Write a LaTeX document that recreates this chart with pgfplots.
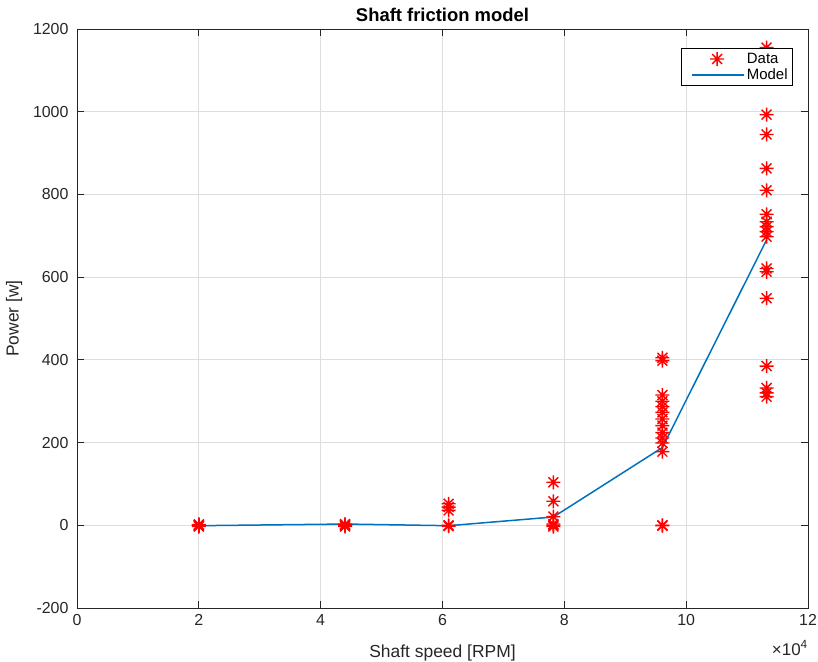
\documentclass[border=0pt]{standalone}
\usepackage{pgfplots}
\pgfplotsset{compat=1.18}
\usepackage{fontspec}
\setmainfont{Liberation Sans}

\definecolor{mblue}{rgb}{0,0.447,0.741}
\definecolor{gridgray}{RGB}{222,222,222}
\definecolor{axgray}{RGB}{38,38,38}

% eight-armed asterisk marker
\pgfdeclareplotmark{mstar}{%
  \pgfpathmoveto{\pgfqpoint{-\pgfplotmarksize}{0pt}}%
  \pgfpathlineto{\pgfqpoint{\pgfplotmarksize}{0pt}}%
  \pgfpathmoveto{\pgfqpoint{0pt}{-\pgfplotmarksize}}%
  \pgfpathlineto{\pgfqpoint{0pt}{\pgfplotmarksize}}%
  \pgfpathmoveto{\pgfqpoint{-0.7071\pgfplotmarksize}{-0.7071\pgfplotmarksize}}%
  \pgfpathlineto{\pgfqpoint{0.7071\pgfplotmarksize}{0.7071\pgfplotmarksize}}%
  \pgfpathmoveto{\pgfqpoint{-0.7071\pgfplotmarksize}{0.7071\pgfplotmarksize}}%
  \pgfpathlineto{\pgfqpoint{0.7071\pgfplotmarksize}{-0.7071\pgfplotmarksize}}%
  \pgfusepathqstroke}

% legend samples
\pgfplotsset{
  datalegend/.style={legend image code/.code={\path (-7bp,0bp);
    \draw[mark repeat=2,mark phase=2,##1]
    plot coordinates {(0bp,0bp) (25bp,0bp) (52bp,0bp)};}},
  linelegend/.style={legend image code/.code={\path (-7bp,0bp);
    \draw[##1] (0bp,0bp) -- (52bp,0bp);}},
}

\begin{document}
\begin{tikzpicture}
\useasboundingbox (-77bp,-54bp) rectangle (741bp,608bp);
\begin{axis}[
  name=ax,
  at={(0,0)}, anchor=south west,
  scale only axis,
  width=731bp, height=579bp,
  xmin=0, xmax=120000, ymin=-200, ymax=1200,
  xtick={0,20000,40000,60000,80000,100000,120000},
  xticklabels={0,2,4,6,8,10,12},
  ytick={-200,0,200,400,600,800,1000,1200},
  scaled x ticks=false,
  /pgf/number format/assume math mode=true,
  /pgf/number format/.cd, 1000 sep={}, /pgfplots/.cd,
  grid=major,
  major grid style={gridgray, line width=0.9bp},
  axis line style={axgray, line width=0.8bp},
  tick style={axgray, line width=0.8bp},
  major tick length=7bp,
  tick align=inside,
  ticklabel style={font=\fontsize{16}{19}\selectfont, text=axgray},
  xticklabel style={yshift=-3bp},
  yticklabel style={xshift=-5bp},
  title={\bfseries Shaft friction model},
  title style={font=\fontsize{18.5}{22}\selectfont, yshift=-2bp},
  xlabel={Shaft speed [RPM]},
  ylabel={Power [w]},
  label style={font=\fontsize{17.5}{21}\selectfont, text=axgray},
  xlabel style={yshift=-12bp},
  ylabel style={yshift=4bp},
  legend style={at={(rel axis cs:0.9795,0.967)}, anchor=north east,
    draw=black, line width=0.8bp, font=\fontsize{15}{17}\selectfont,
    inner xsep=3bp, inner ysep=3.5bp, row sep=2bp, column sep=0bp,
    nodes={inner xsep=2bp, inner ysep=1bp}},
  legend cell align=left,
  legend plot pos=left,
]
\addplot[only marks, red, mark=mstar, mark size=7bp, line width=1.4bp, datalegend] coordinates {
  (20000,-3) (20000,-1) (20000,0) (20000,1) (20000,2)
  (44000,-3) (44000,-1) (44000,0) (44000,1) (44000,3)
  (61000,52) (61000,44) (61000,36) (61000,0) (61000,-2)
  (78200,104) (78200,58) (78200,21) (78200,3) (78200,0) (78200,-3)
  (96100,405) (96100,398) (96100,315) (96100,300) (96100,287) (96100,273)
  (96100,257) (96100,241) (96100,224) (96100,211) (96100,199) (96100,178)
  (96100,0) (96100,-1)
  (113200,1155) (113200,993) (113200,945) (113200,863) (113200,810)
  (113200,752) (113200,734) (113200,722) (113200,710) (113200,698)
  (113200,621) (113200,613) (113200,549) (113200,385) (113200,332)
  (113200,320) (113200,311)
};
\addlegendentry{Data}
\addplot[mblue, line width=1.5bp, mark=none, linelegend] coordinates {
  (20000,-1) (44000,3) (61000,-1) (78200,20) (96100,188) (113200,690)
};
\addlegendentry{Model}
\end{axis}
\node[anchor=base east, inner sep=0pt, font=\fontsize{17}{20}\selectfont, text=axgray]
  at ([yshift=-47bp]ax.south east) {×10\textsuperscript{4}};
\end{tikzpicture}
\end{document}
